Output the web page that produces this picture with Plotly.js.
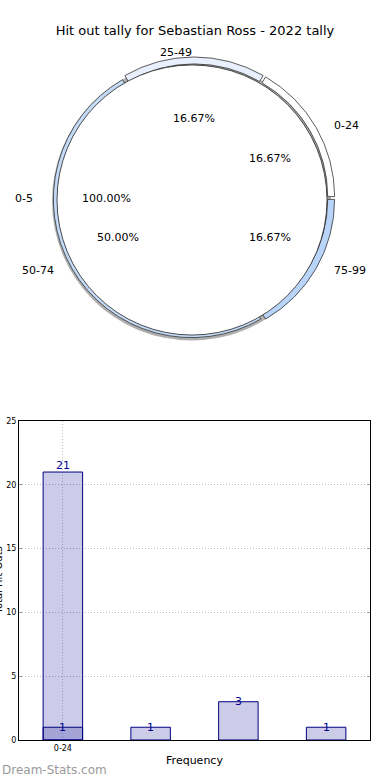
<!DOCTYPE html>
<html>
<head>
<meta charset="utf-8">
<script src="https://cdn.plot.ly/plotly-3.0.1.min.js"></script>
<style>html,body{margin:0;padding:0;background:#fff;}#chart{width:390px;height:780px;}</style>
</head>
<body>
<div id="chart"></div>
<script>
// ---------- data ----------
const chartTitle = 'Hit out tally for Sebastian Ross - 2022 tally';
const ringLabels = ['25-49', '0-24', '75-99', '50-74'];
const ringValues = [1, 1, 1, 3];
const ringColors = ['#e8f0fd', '#ffffff', '#b8d5f9', '#c4dbf8'];
const centerLabel = '0-5';
const centerValue = [6];

const barCategories = ['0-24', '25-49', '50-74', '75-99'];
const barFrequency = [1, 1, 3, 1];
const totalCategories = ['0-24'];
const totalValues = [21];
const xTickLabels = ['0-24'];
const xAxisTitle = 'Frequency';
const yAxisTitle = 'Total Hit Outs';
const watermark = 'Dream-Stats.com';

// ---------- helpers ----------
const W = 390, H = 780;
const px = x => x / W;
const py = y => 1 - y / H;
function domainFor(cx, cy, r) {
  return { x: [px(cx - r), px(cx + r)], y: [py(cy + r), py(cy - r)] };
}
const catIndex = c => barCategories.indexOf(c);

// pie geometry
const pieCX = 194, pieCY = 198, pieRX = 146, pieRY = 132;
const startAngle = 120; // degrees, math convention, clockwise slices

const total = ringValues.reduce((a, b) => a + b, 0);
const annotations = [];
let cum = 0;
ringValues.forEach((v, i) => {
  const a0 = startAngle - 360 * cum / total;
  const a1 = a0 - 360 * v / total;
  const mid = (a0 + a1) / 2 * Math.PI / 180;
  cum += v;
  const c = Math.cos(mid), s = Math.sin(mid);
  annotations.push({
    x: px(pieCX + pieRX * 1.09 * c), y: py(pieCY - pieRY * 1.1 * s),
    xref: 'paper', yref: 'paper', showarrow: false,
    text: ringLabels[i], xanchor: c > 0.01 ? 'left' : 'right', yanchor: 'middle',
    font: { size: 11, color: '#000' }
  });
  annotations.push({
    x: px(pieCX + pieRX * 0.6 * c), y: py(pieCY - pieRY * 0.6 * s),
    xref: 'paper', yref: 'paper', showarrow: false,
    text: (100 * v / total).toFixed(2) + '%', xanchor: 'center', yanchor: 'middle',
    font: { size: 11, color: '#000' }
  });
});
// center slice labels (single full slice, mid-angle at 180 deg)
annotations.push({
  x: px(pieCX - pieRX * 1.09), y: py(pieCY), xref: 'paper', yref: 'paper', showarrow: false,
  text: centerLabel, xanchor: 'right', yanchor: 'middle', font: { size: 11, color: '#000' }
});
annotations.push({
  x: px(pieCX - pieRX * 0.6), y: py(pieCY), xref: 'paper', yref: 'paper', showarrow: false,
  text: (100 * centerValue[0] / total).toFixed(2) + '%', xanchor: 'center', yanchor: 'middle',
  font: { size: 11, color: '#000' }
});

// bar value labels
totalCategories.forEach((c, i) => {
  annotations.push({
    x: catIndex(c), y: totalValues[i], xref: 'x', yref: 'y', showarrow: false,
    text: String(totalValues[i]), yanchor: 'bottom', yshift: -2,
    font: { size: 11, color: '#00008b' }
  });
});
barCategories.forEach((c, i) => {
  annotations.push({
    x: i, y: barFrequency[i], xref: 'x', yref: 'y', showarrow: false,
    text: String(barFrequency[i]), yanchor: 'middle',
    font: { size: 11, color: '#00008b' }
  });
});
// y-axis title (partly outside the page, as in the reference)
annotations.push({
  x: px(-2), y: py((421 + 740) / 2), xref: 'paper', yref: 'paper', showarrow: false,
  text: yAxisTitle, textangle: -90, xanchor: 'center', yanchor: 'middle',
  font: { size: 10, color: '#000' }
});
annotations.push({
  x: 0, y: py(770), xref: 'paper', yref: 'paper', showarrow: false,
  text: watermark, xanchor: 'left', yanchor: 'middle',
  font: { size: 12, color: '#9a9a9a' }
});

// ---------- traces ----------
const shadow = {
  type: 'pie', values: centerValue, labels: [centerLabel + ' shadow'],
  domain: domainFor(191.5, 201, 139.5), sort: false, textinfo: 'none', hoverinfo: 'skip',
  marker: { colors: ['#8c8c8c'], line: { width: 0 } }, opacity: 0.7, showlegend: false
};
const ring = {
  type: 'pie', values: ringValues, labels: ringLabels, domain: domainFor(pieCX, pieCY, 141),
  hole: 0.95, sort: false, direction: 'clockwise', rotation: 90 - startAngle,
  pull: ringValues.map(() => 0.02),
  textinfo: 'none', hoverinfo: 'label+percent',
  marker: { colors: ringColors, line: { color: '#333', width: 0.8 } }, showlegend: false
};
const center = {
  type: 'pie', values: centerValue, labels: [centerLabel], domain: domainFor(192, 200, 135),
  sort: false, direction: 'clockwise', rotation: 90, textinfo: 'none', hoverinfo: 'label+percent',
  marker: { colors: ['#ffffff'], line: { color: '#222', width: 0.8 } }, showlegend: false
};
const barFill = 'rgba(0,0,139,0.2)';
const totalBar = {
  type: 'bar', x: totalCategories.map(catIndex), y: totalValues, width: 0.45,
  marker: { color: barFill, line: { color: '#000080', width: 1 } }, hoverinfo: 'y', showlegend: false
};
const freqBar = {
  type: 'bar', x: barCategories.map(catIndex), y: barFrequency, width: 0.45,
  marker: { color: barFill, line: { color: '#000080', width: 1 } }, hoverinfo: 'y', showlegend: false
};

const layout = {
  width: W, height: H, margin: { l: 0, r: 0, t: 0, b: 0 },
  paper_bgcolor: '#fff', plot_bgcolor: '#fff',
  font: { family: 'DejaVu Sans, sans-serif', color: '#000' },
  title: { text: chartTitle, x: 0.5, xanchor: 'center', y: 1 - 30 / H, yanchor: 'middle', yref: 'container',
           font: { size: 13, color: '#000' } },
  barmode: 'overlay', showlegend: false,
  xaxis: {
    domain: [px(19), px(370)], range: [-0.5, 3.5], tickmode: 'array',
    tickvals: xTickLabels.map(catIndex), ticktext: xTickLabels,
    tickfont: { size: 8 }, ticks: '', showgrid: true, gridcolor: '#bdbdbd', griddash: '1px,2px', gridwidth: 1,
    zeroline: false, showline: true, linecolor: '#000', linewidth: 1, mirror: true,
    title: { text: xAxisTitle, font: { size: 11 }, standoff: 4 }, fixedrange: true
  },
  yaxis: {
    domain: [py(740), py(421)], range: [0, 25], dtick: 5, tickfont: { size: 8 },
    ticks: 'inside', ticklen: 3, tickcolor: '#999', showgrid: true, gridcolor: '#bdbdbd', griddash: '1px,2px', gridwidth: 1,
    zeroline: false, showline: true, linecolor: '#000', linewidth: 1, mirror: 'allticks',
    fixedrange: true
  },
  annotations: annotations
};

Plotly.newPlot('chart', [shadow, ring, center, totalBar, freqBar], layout, { staticPlot: true, displayModeBar: false });
</script>
</body>
</html>
